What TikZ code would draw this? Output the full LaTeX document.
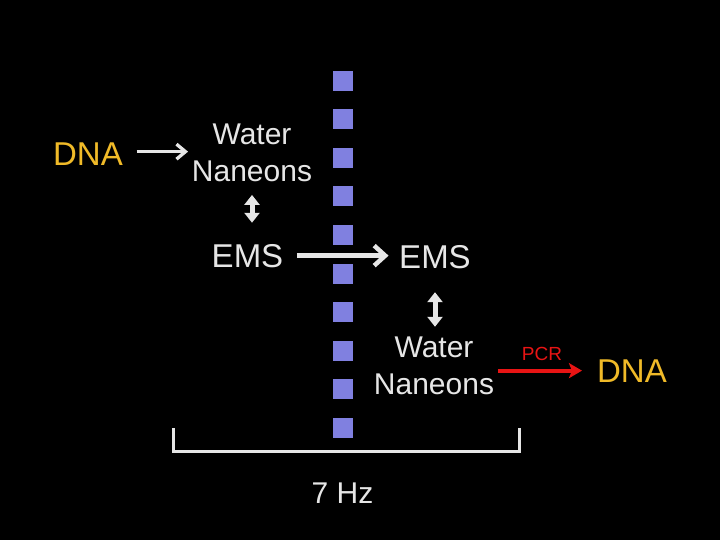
\documentclass[tikz,border=0pt]{standalone}
\usepackage{fontspec}
\setmainfont{Liberation Sans}
\usetikzlibrary{arrows.meta}
\definecolor{txt}{RGB}{230,230,230}
\definecolor{orng}{RGB}{240,186,40}
\definecolor{redc}{RGB}{232,20,20}
\definecolor{sqc}{RGB}{128,128,224}
\tikzset{
  big/.style={text=txt,inner sep=0pt,font=\fontsize{33}{37}\selectfont},
  two/.style={text=txt,inner sep=0pt,align=center,font=\fontsize{30}{37}\selectfont},
  dnat/.style={text=orng,inner sep=0pt,font=\fontsize{33}{37}\selectfont},
  sq/.style={fill=sqc,draw=none,minimum size=20pt,inner sep=0pt},
  thinarr/.style={draw=txt,line width=3.3pt,-{Straight Barb[length=9pt,width=15pt,line width=3.3pt]}},
  thickarr/.style={draw=txt,line width=4.7pt,-{Straight Barb[length=11pt,width=20pt,line width=4.5pt]}},
  dblarr/.style={draw=txt,line width=5pt,{Triangle[length=10pt,width=15pt]}-{Triangle[length=10pt,width=15pt]}},
  redarr/.style={draw=redc,line width=4pt,-{Stealth[length=13pt,width=15pt,inset=3pt]}},
  brk/.style={draw=txt,line width=3pt}
}
\begin{document}
\begin{tikzpicture}[x=1pt,y=-1pt]
\fill[black] (0,0) rectangle (720,540);
\useasboundingbox (0,0) rectangle (720,540);
% squares
\foreach \i in {0,...,9}{
  \node[sq] (s\i) at (343.3,{80.7+38.56*\i}) {};
}
% texts
\node[dnat,anchor=base] (dna1) at (88,166) {DNA};
\node[two,anchor=center] (wn1) at (252,152.75) {Water\\Naneons};
\node[big,anchor=base] (ems1) at (247.5,267) {EMS};
\node[big,anchor=base] (ems2) at (435,268) {EMS};
\node[two,anchor=center] (wn2) at (434,365.75) {Water\\Naneons};
\node[text=redc,inner sep=0pt,font=\fontsize{19}{22}\selectfont,anchor=base] (pcr) at (542,360) {PCR};
\node[dnat,anchor=base] (dna2) at (632,382) {DNA};
\node[big,font=\fontsize{30}{36}\selectfont,anchor=base] (hz) at (342.5,503) {7 Hz};
% arrows
\draw[thinarr,shorten <=13.7pt,shorten >=3.7pt] ([yshift=3pt]dna1.east) -- ([yshift=3pt]dna1.east -| wn1.west);
\draw[thickarr,shorten <=13.4pt,shorten >=10.5pt] (ems1.east) -- (ems1.east -| ems2.west);
\draw[dblarr,shorten <=13pt,shorten >=21pt] (wn1.south) -- (wn1.south |- ems1.north);
\draw[dblarr,shorten <=23.7pt,shorten >=9.8pt] (ems2.south) -- (ems2.south |- wn2.north);
\draw[redarr,shorten <=3.5pt,shorten >=15pt] (wn2.east |- dna2) -- (dna2.west);
% bracket
\coordinate (b1) at (173,428);
\coordinate (b2) at (173,451);
\coordinate (b3) at (519,451);
\coordinate (b4) at (519,428);
\draw[brk] (b1) -- (b2) -- (b3) -- (b4);
\end{tikzpicture}
\end{document}
